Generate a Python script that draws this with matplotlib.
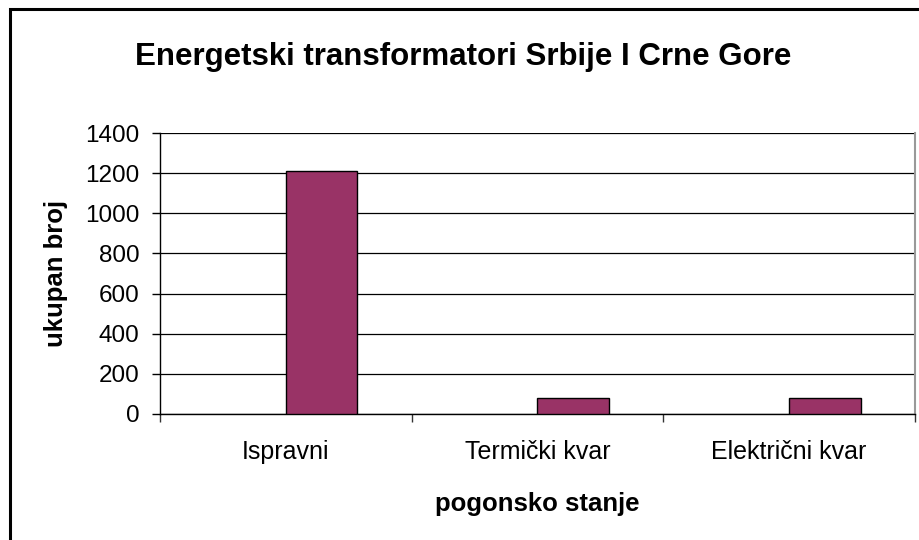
import numpy as np
import matplotlib
matplotlib.use('Agg')
import matplotlib.pyplot as plt
from matplotlib.patches import Rectangle

plt.rcParams['font.family'] = ['Liberation Sans', 'DejaVu Sans']

# podaci
kategorije = ['Ispravni', 'Termički kvar', 'Električni kvar']
broj = [1210, 78, 78]
y_ticks = [0, 200, 400, 600, 800, 1000, 1200, 1400]

fig = plt.figure(figsize=(9.2, 5.4), dpi=100)

# okvir oko grafika (kao u Excelu)
fig.patches.append(Rectangle((10 / 920, -0.05), 1.2, (540 - 9) / 540 + 0.05,
                             transform=fig.transFigure, fill=False,
                             edgecolor='black', linewidth=2.2, zorder=0))

ax = fig.add_axes([160 / 920, 1 - 414 / 540, 755 / 920, 281 / 540])

x = np.arange(len(kategorije))
w = 0.284
ax.bar(x, broj, width=w, align='edge', color='#993366',
       edgecolor='black', linewidth=1.0, zorder=3)

ax.set_xlim(-0.5, 2.5)
ax.set_ylim(0, 1400)
ax.set_yticks(y_ticks)
ax.set_yticklabels([str(v) for v in y_ticks], fontsize=17.5)
ax.yaxis.grid(True, color='black', linewidth=0.9)
ax.set_axisbelow(True)

# kategorije: oznake u sredini, crtice na granicama
ax.set_xticks(x)
ax.set_xticklabels(kategorije, fontsize=18)
ax.tick_params(axis='x', length=0, pad=19)
ax.set_xticks([-0.5, 0.5, 1.5, 2.5], minor=True)
ax.tick_params(axis='x', which='minor', length=6, direction='out', width=1, color='#333333')
ax.tick_params(axis='y', length=6, direction='out', width=1, pad=9)

for s in ['left', 'bottom']:
    ax.spines[s].set_color('black')
    ax.spines[s].set_linewidth(1.0)
ax.spines['top'].set_visible(False)
ax.spines['right'].set_color('#999999')
ax.spines['right'].set_linewidth(1.5)

ax.set_ylabel('ukupan broj', fontsize=18.5, fontweight='bold', labelpad=12)
ax.set_xlabel('pogonsko stanje', fontsize=18.5, fontweight='bold', labelpad=20)

fig.text(463 / 920, 1 - 57 / 540, 'Energetski transformatori Srbije I Crne Gore',
         ha='center', va='center', fontsize=22.5, fontweight='bold')

fig.savefig('out.png', dpi=100)
